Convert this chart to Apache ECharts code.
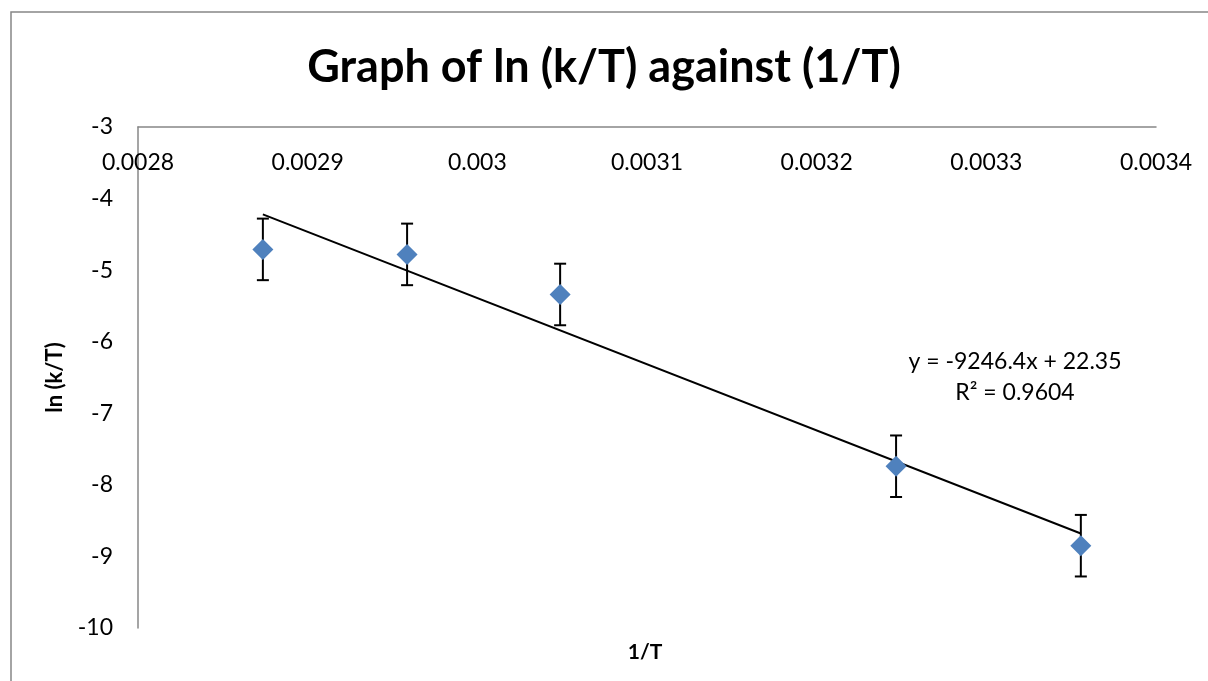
<!DOCTYPE html>
<html>
<head>
<meta charset="utf-8">
<script src="https://cdn.jsdelivr.net/npm/echarts@6/dist/echarts.min.js"></script>
<style>
html, body { margin: 0; padding: 0; background: #fff; }
#chart { width: 1208px; height: 681px; }
</style>
</head>
<body>
<div id="chart"></div>
<script>
// 1/T values (T = 348, 338, 328, 308, 298 K)
var invT = [0.0028736, 0.0029586, 0.0030488, 0.0032468, 0.0033557];
var lnKT = [-4.71, -4.78, -5.34, -7.74, -8.85];
var errBar = [0.43, 0.43, 0.43, 0.43, 0.43];
// linear trendline end points
var trendX = [0.0028736, 0.0033557];
var trendY = [-4.22, -8.68];
var xTicks = [0.0028, 0.0029, 0.003, 0.0031, 0.0032, 0.0033, 0.0034];
var yTicks = [-10, -9, -8, -7, -6, -5, -4, -3];

var font = 'Lato, "Open Sans", sans-serif';
var axisGray = '#878787';

var chart = echarts.init(document.getElementById('chart'));

var points = invT.map(function (x, i) { return [x, lnKT[i]]; });
var errData = invT.map(function (x, i) { return [x, lnKT[i] - errBar[i], lnKT[i] + errBar[i]]; });
var trendData = trendX.map(function (x, i) { return [x, trendY[i]]; });

var option = {
	backgroundColor: '#fff',
	animation: false,
	title: {
		text: 'Graph of ln (k/T) against (1/T)',
		left: 'center',
		top: 40,
		textStyle: { fontFamily: font, fontWeight: 'bold', fontSize: 45, color: '#000' }
	},
	grid: { left: 138, top: 127, right: 52, bottom: 53 },
	xAxis: {
		type: 'value',
		position: 'top',
		min: xTicks[0],
		max: xTicks[xTicks.length - 1],
		interval: 0.0001,
		axisLine: { show: true, onZero: false, lineStyle: { color: axisGray, width: 1.5 } },
		axisTick: { show: false },
		splitLine: { show: false },
		axisLabel: {
			inside: true,
			margin: 24,
			showMinLabel: true,
			showMaxLabel: true,
			color: '#000',
			fontFamily: font,
			fontSize: 23,
			formatter: function (v) { return String(+v.toFixed(4)); }
		}
	},
	yAxis: {
		type: 'value',
		min: yTicks[0],
		max: yTicks[yTicks.length - 1],
		interval: 1,
		name: 'ln (k/T)',
		nameLocation: 'middle',
		nameGap: 72,
		nameTextStyle: { fontFamily: font, fontWeight: 'bold', fontSize: 22, color: '#000' },
		axisLine: { show: true, onZero: false, lineStyle: { color: axisGray, width: 1.5 } },
		axisTick: { show: false },
		splitLine: { show: false },
		axisLabel: { margin: 25, color: '#000', fontFamily: font, fontSize: 23 }
	},
	graphic: [
		{
			type: 'rect', silent: true, z: -1,
			shape: { x: 11, y: 12, width: 1400, height: 900 },
			style: { fill: 'none', stroke: axisGray, lineWidth: 1.5 }
		},
		{
			type: 'text', position: [645, 652],
			style: { text: '1/T', font: 'bold 21px ' + font, fill: '#000', align: 'center', verticalAlign: 'middle' }
		},
		{
			type: 'text', position: [1015, 362],
			style: { text: 'y = -9246.4x + 22.35', font: '23px ' + font, fill: '#000', align: 'center', verticalAlign: 'middle' }
		},
		{
			type: 'text', position: [1015, 393],
			style: { text: 'R² = 0.9604', font: '23px ' + font, fill: '#000', align: 'center', verticalAlign: 'middle' }
		}
	],
	series: [
		{
			type: 'line',
			data: trendData,
			showSymbol: false,
			lineStyle: { color: '#000', width: 2 },
			z: 2
		},
		{
			type: 'custom',
			data: errData,
			z: 3,
			renderItem: function (params, api) {
				var x = api.value(0);
				var lo = api.coord([x, api.value(1)]);
				var hi = api.coord([x, api.value(2)]);
				var cap = 6;
				var st = { stroke: '#000', lineWidth: 2 };
				return {
					type: 'group',
					children: [
						{ type: 'line', shape: { x1: lo[0], y1: lo[1], x2: hi[0], y2: hi[1] }, style: st },
						{ type: 'line', shape: { x1: lo[0] - cap, y1: lo[1], x2: lo[0] + cap, y2: lo[1] }, style: st },
						{ type: 'line', shape: { x1: hi[0] - cap, y1: hi[1], x2: hi[0] + cap, y2: hi[1] }, style: st }
					]
				};
			}
		},
		{
			type: 'scatter',
			data: points,
			symbol: 'diamond',
			symbolSize: [21, 21],
			itemStyle: { color: '#4F81BD', opacity: 1 },
			z: 4
		}
	]
};
chart.setOption(option);
</script>
</body>
</html>
